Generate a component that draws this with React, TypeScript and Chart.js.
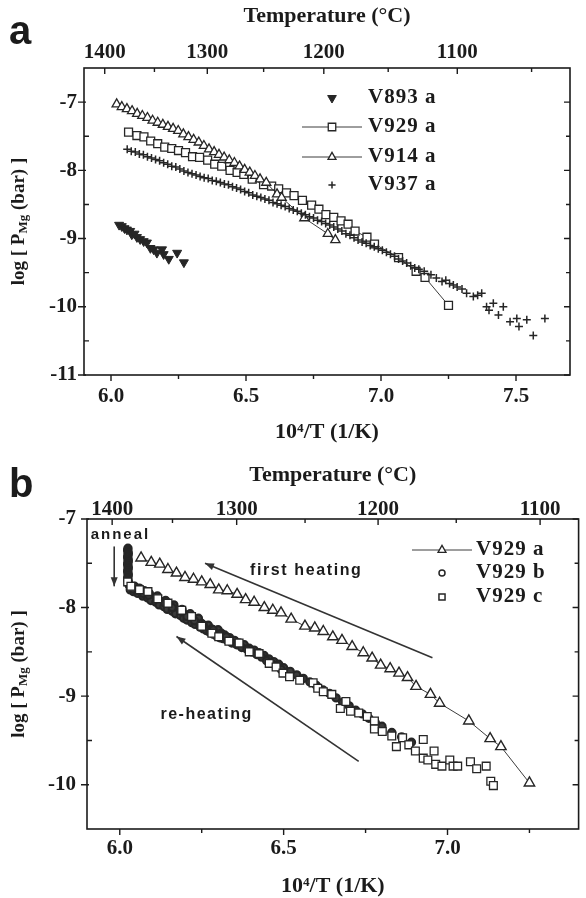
import React, { useEffect, useRef } from 'react';
import { Chart, registerables } from 'chart.js';
import { drawPoint } from 'chart.js/helpers';

Chart.register(...registerables);

// ---------------- Panel a data: [10^4/T, log P_Mg] ----------------
const V893A: [number, number][] = [
  [6.030, -8.80], [6.040, -8.82], [6.050, -8.85], [6.059, -8.87], [6.071, -8.89], [6.077, -8.94],
  [6.087, -8.93], [6.096, -8.98], [6.108, -9.01], [6.121, -9.04], [6.133, -9.06], [6.146, -9.14],
  [6.158, -9.16], [6.170, -9.21], [6.189, -9.16], [6.195, -9.23], [6.214, -9.30], [6.245, -9.21],
  [6.270, -9.35],
];

const V929A: [number, number][] = [
  [6.065, -7.44], [6.096, -7.49], [6.122, -7.51], [6.147, -7.57], [6.173, -7.61], [6.199, -7.66],
  [6.225, -7.68], [6.250, -7.71], [6.276, -7.74], [6.302, -7.80], [6.328, -7.81], [6.358, -7.85],
  [6.384, -7.91], [6.410, -7.94], [6.441, -8.00], [6.467, -8.03], [6.492, -8.06], [6.523, -8.13],
  [6.565, -8.21], [6.595, -8.23], [6.621, -8.27], [6.650, -8.33], [6.678, -8.37], [6.709, -8.44],
  [6.743, -8.51], [6.770, -8.57], [6.796, -8.65], [6.825, -8.69], [6.852, -8.74], [6.878, -8.79],
  [6.904, -8.89], [6.948, -8.98], [6.976, -9.08], [7.065, -9.28], [7.130, -9.48], [7.163, -9.57],
  [7.250, -9.98],
];

const V914A: [number, number][] = [
  [6.021, -7.03], [6.040, -7.07], [6.059, -7.10], [6.078, -7.13], [6.097, -7.17], [6.116, -7.20],
  [6.135, -7.23], [6.154, -7.27], [6.173, -7.30], [6.192, -7.33], [6.211, -7.36], [6.230, -7.39],
  [6.249, -7.42], [6.268, -7.47], [6.287, -7.51], [6.306, -7.55], [6.325, -7.59], [6.344, -7.64],
  [6.363, -7.69], [6.382, -7.73], [6.400, -7.77], [6.419, -7.81], [6.438, -7.85], [6.457, -7.89],
  [6.476, -7.94], [6.495, -7.99], [6.514, -8.03], [6.533, -8.08], [6.552, -8.13], [6.575, -8.18],
  [6.615, -8.35], [6.632, -8.40], [6.716, -8.70], [6.803, -8.93], [6.831, -9.02],
];

const V937A: [number, number][] = [
  [6.060, -7.69], [6.075, -7.72], [6.090, -7.73], [6.105, -7.76], [6.120, -7.77], [6.135, -7.80],
  [6.150, -7.82], [6.165, -7.84], [6.180, -7.86], [6.195, -7.89], [6.210, -7.91], [6.225, -7.94],
  [6.240, -7.95], [6.255, -7.98], [6.270, -8.01], [6.285, -8.03], [6.300, -8.05], [6.315, -8.07],
  [6.330, -8.09], [6.345, -8.11], [6.360, -8.12], [6.375, -8.15], [6.390, -8.16], [6.405, -8.18],
  [6.420, -8.20], [6.435, -8.21], [6.450, -8.24], [6.465, -8.26], [6.480, -8.28], [6.495, -8.31],
  [6.510, -8.33], [6.525, -8.36], [6.540, -8.38], [6.555, -8.40], [6.570, -8.42], [6.585, -8.44],
  [6.600, -8.47], [6.615, -8.49], [6.630, -8.51], [6.645, -8.53], [6.660, -8.56], [6.675, -8.58],
  [6.690, -8.60], [6.705, -8.63], [6.720, -8.65], [6.735, -8.68], [6.750, -8.70], [6.765, -8.73],
  [6.780, -8.75], [6.795, -8.78], [6.810, -8.80], [6.825, -8.83], [6.840, -8.86], [6.855, -8.89],
  [6.870, -8.93], [6.885, -8.95], [6.900, -8.99], [6.915, -9.02], [6.930, -9.05], [6.945, -9.07],
  [6.960, -9.10], [6.975, -9.12], [6.990, -9.15], [7.005, -9.17], [7.020, -9.20], [7.035, -9.23],
  [7.050, -9.26], [7.065, -9.30], [7.080, -9.33], [7.095, -9.36], [7.110, -9.40], [7.125, -9.43],
  [7.140, -9.45], [7.160, -9.48], [7.185, -9.53], [7.205, -9.58], [7.226, -9.63], [7.240, -9.61],
  [7.254, -9.66], [7.268, -9.68], [7.282, -9.71], [7.300, -9.74], [7.317, -9.80], [7.342, -9.85],
  [7.358, -9.83], [7.373, -9.80], [7.391, -10.00], [7.400, -10.05], [7.416, -9.95], [7.435, -10.12],
  [7.453, -10.00], [7.478, -10.22], [7.503, -10.17], [7.511, -10.29], [7.540, -10.19], [7.564, -10.42],
  [7.607, -10.17],
];

// ---------------- Panel b data ----------------
const V929B: [number, number][] = [
  // anneal column
  [6.025, -7.33], [6.024, -7.35], [6.025, -7.37], [6.026, -7.39], [6.025, -7.41], [6.024, -7.43],
  [6.025, -7.45], [6.026, -7.47], [6.025, -7.49], [6.024, -7.51], [6.025, -7.53], [6.026, -7.55],
  [6.025, -7.57], [6.024, -7.59], [6.025, -7.61], [6.026, -7.63], [6.025, -7.65], [6.024, -7.67],
  [6.025, -7.69], [6.026, -7.71], [6.027, -7.73], [6.029, -7.75],
  // re-heating
  [6.035, -7.77], [6.045, -7.76], [6.050, -7.80], [6.060, -7.78], [6.065, -7.83], [6.075, -7.81],
  [6.080, -7.86], [6.090, -7.84], [6.100, -7.88], [6.105, -7.91], [6.115, -7.87], [6.125, -7.93],
  [6.130, -7.96], [6.140, -7.92], [6.150, -7.98], [6.155, -8.01], [6.165, -7.97], [6.175, -8.03],
  [6.180, -8.06], [6.190, -8.02], [6.200, -8.08], [6.210, -8.11], [6.215, -8.07], [6.225, -8.13],
  [6.235, -8.16], [6.240, -8.12], [6.250, -8.18], [6.260, -8.21], [6.270, -8.20], [6.280, -8.24],
  [6.290, -8.26], [6.300, -8.25], [6.310, -8.29], [6.320, -8.31], [6.335, -8.34], [6.350, -8.37],
  [6.365, -8.40], [6.380, -8.42], [6.395, -8.46], [6.410, -8.48], [6.425, -8.51], [6.440, -8.54],
  [6.455, -8.58], [6.470, -8.61], [6.485, -8.64], [6.500, -8.68], [6.520, -8.72], [6.540, -8.76],
  [6.560, -8.80], [6.580, -8.84], [6.600, -8.88], [6.620, -8.93], [6.640, -8.97], [6.660, -9.02],
  [6.680, -9.07], [6.700, -9.11], [6.720, -9.16], [6.740, -9.20], [6.760, -9.25], [6.780, -9.30],
  [6.800, -9.34], [6.830, -9.41], [6.860, -9.46], [6.890, -9.52],
  [6.032, -7.80], [6.042, -7.82], [6.055, -7.84], [6.070, -7.87], [6.085, -7.89], [6.095, -7.92],
  [6.110, -7.94], [6.120, -7.97], [6.135, -7.99], [6.145, -8.02], [6.160, -8.04], [6.170, -8.07],
  [6.185, -8.09], [6.195, -8.12], [6.205, -8.14], [6.220, -8.17], [6.230, -8.19], [6.245, -8.22],
  [6.255, -8.24], [6.265, -8.26], [6.275, -8.28], [6.285, -8.30], [6.295, -8.32], [6.305, -8.34],
  [6.315, -8.35], [6.328, -8.37], [6.342, -8.40], [6.357, -8.42], [6.372, -8.45], [6.388, -8.47],
  [6.403, -8.50], [6.418, -8.53], [6.433, -8.56], [6.448, -8.60], [6.463, -8.63], [6.478, -8.66],
  [6.493, -8.70],
  [6.040, -7.79], [6.058, -7.81], [6.072, -7.84], [6.088, -7.86], [6.112, -7.90], [6.138, -7.95],
  [6.160, -8.00], [6.185, -8.04], [6.205, -8.10], [6.228, -8.15], [6.255, -8.20], [6.285, -8.25],
  [6.305, -8.30], [6.325, -8.33],
];

const V929C: [number, number][] = [
  [6.024, -7.71], [6.034, -7.76], [6.060, -7.80], [6.086, -7.82], [6.116, -7.90], [6.147, -7.95],
  [6.189, -8.03], [6.219, -8.10], [6.250, -8.21], [6.281, -8.29], [6.302, -8.33], [6.333, -8.38],
  [6.364, -8.40], [6.395, -8.50], [6.425, -8.52], [6.456, -8.63], [6.477, -8.67], [6.498, -8.74],
  [6.518, -8.78], [6.549, -8.82], [6.590, -8.85], [6.604, -8.91], [6.621, -8.95], [6.647, -8.98],
  [6.673, -9.14], [6.690, -9.06], [6.704, -9.17], [6.729, -9.19], [6.755, -9.23], [6.777, -9.28],
  [6.777, -9.37], [6.801, -9.40], [6.830, -9.45], [6.844, -9.57], [6.863, -9.47], [6.882, -9.55],
  [6.902, -9.62], [6.926, -9.49], [6.926, -9.70], [6.940, -9.72], [6.959, -9.62], [6.964, -9.77],
  [6.983, -9.79], [7.007, -9.72], [7.017, -9.79], [7.031, -9.79], [7.070, -9.74], [7.089, -9.82],
  [7.118, -9.79], [7.132, -9.96], [7.140, -10.01],
];

// ---------------- Axis ticks ----------------
const A_X_LABELS = [6.0, 6.5, 7.0, 7.5];
const A_X_MINOR = [6.25, 6.75, 7.25];
const A_Y_LABELS = [-11, -10, -9, -8, -7];
const A_Y_MINOR = [-10.5, -9.5, -8.5, -7.5];
const A_TEMP_LABELS = [1400, 1300, 1200, 1100];
const A_TEMP_MINOR = [1350, 1250, 1150, 1050];

const B_X_LABELS = [6.0, 6.5, 7.0];
const B_X_MINOR = [6.25, 6.75, 7.25];
const B_Y_LABELS = [-10, -9, -8, -7];
const B_Y_MINOR = [-9.5, -8.5, -7.5];
const B_TEMP_LABELS = [1400, 1300, 1200, 1100];
const B_TEMP_MINOR = [1350, 1250, 1150];

// ---------------- styling ----------------
const INK = '#1b1b1b';
const MARK = '#262626';
const LINE = '#3c3c3c';
const SERIF = '"Liberation Serif", "Times New Roman", serif';
const SANS = '"Liberation Sans", Arial, sans-serif';

const invT = (tC: number) => 1e4 / (tC + 273.15);
const pts = (arr: [number, number][]) => arr.map(([x, y]) => ({ x, y }));

const ST = {
  downTri: { pointStyle: 'triangle', rotation: 180, radius: 5.2, fill: MARK, bw: 1 },
  square: { pointStyle: 'rect', rotation: 0, radius: 5.6, fill: '#ffffff', bw: 1.3 },
  tri: { pointStyle: 'triangle', rotation: 0, radius: 5.3, fill: '#ffffff', bw: 1.3 },
  triB: { pointStyle: 'triangle', rotation: 0, radius: 6, fill: '#ffffff', bw: 1.4 },
  cross: { pointStyle: 'cross', rotation: 0, radius: 4, fill: MARK, bw: 1.5 },
  circle: { pointStyle: 'circle', rotation: 0, radius: 3.6, fill: '#3a3a3a', bw: 2.2 },
  squareB: { pointStyle: 'rect', rotation: 0, radius: 5.5, fill: '#ffffff', bw: 1.3 },
};

function ds(label: string, data: [number, number][], st: any, line: boolean, order: number) {
  return {
    label,
    data: pts(data),
    order,
    showLine: line,
    borderColor: LINE,
    borderWidth: 1,
    pointStyle: st.pointStyle,
    rotation: st.rotation,
    pointRadius: st.radius,
    pointBackgroundColor: st.fill,
    pointBorderColor: MARK,
    pointBorderWidth: st.bw,
  };
}

const SPEC_A = {
  letter: 'a', width: 586, height: 452,
  xMin: 5.9, xMax: 7.7, yMin: -11, yMax: -6.5,
  xLabels: A_X_LABELS, xMinor: A_X_MINOR, yLabels: A_Y_LABELS, yMinor: A_Y_MINOR,
  tempLabels: A_TEMP_LABELS, tempMinor: A_TEMP_MINOR,
  leftW: 84, rightPad: 16, topH: 68, bottomH: 77,
  xTickPad: 9, x2TickPad: 3, yTickPad: 7, topTitlePad: 3, bottomTitlePad: 6,
  yTitleX: 19, letterBase: 44,
  datasets: [
    ds('V893 a', V893A, ST.downTri, false, 0),
    ds('V937 a', V937A, ST.cross, false, 1),
    ds('V914 a', V914A, ST.tri, true, 2),
    ds('V929 a', V929A, ST.square, true, 3),
  ],
  legend: [
    { label: 'V893 a', st: { ...ST.downTri, radius: 5 }, line: false },
    { label: 'V929 a', st: { ...ST.square, radius: 5.3 }, line: true },
    { label: 'V914 a', st: { ...ST.tri, radius: 4.6 }, line: true },
    { label: 'V937 a', st: { ...ST.cross, radius: 3.6 }, line: false },
  ],
  legendMarkerX: 248, legendTextX: 284, legendRows: [30, 59, 89, 117],
  notes: [] as any[], arrows: [] as any[],
};

const SPEC_B = {
  letter: 'b', width: 586, height: 446,
  xMin: 5.9, xMax: 7.4, yMin: -10.5, yMax: -7,
  xLabels: B_X_LABELS, xMinor: B_X_MINOR, yLabels: B_Y_LABELS, yMinor: B_Y_MINOR,
  tempLabels: B_TEMP_LABELS, tempMinor: B_TEMP_MINOR,
  leftW: 87, rightPad: 6, topH: 67, bottomH: 69,
  xTickPad: 7, x2TickPad: -3, yTickPad: 11, topTitlePad: 10, bottomTitlePad: -2,
  yTitleX: 19, letterBase: 45,
  datasets: [
    ds('V929 c', V929C, ST.squareB, false, 0),
    ds('V929 b', V929B, ST.circle, false, 1),
    ds('V929 a', V929A, ST.triB, true, 2),
  ],
  legend: [
    { label: 'V929 a', st: { ...ST.tri, radius: 4.6 }, line: true },
    { label: 'V929 b', st: { ...ST.circle, radius: 3, bw: 1.5, fill: 'rgba(0,0,0,0)' }, line: false },
    { label: 'V929 c', st: { ...ST.square, radius: 4.3, bw: 1.5 }, line: false },
  ],
  legendMarkerX: 355, legendTextX: 389, legendRows: [31, 54, 78],
  notes: [
    { text: 'anneal', x: 6.002, y: -7.18, size: 15, spacing: 2 },
    { text: 'first heating', x: 6.569, y: -7.58, size: 16, spacing: 1.6 },
    { text: 're-heating', x: 6.265, y: -9.21, size: 16, spacing: 1.5 },
  ],
  arrows: [
    { from: [6.954, -8.566], to: [6.26, -7.50] },
    { from: [6.729, -9.736], to: [6.173, -8.327] },
    { from: [5.983, -7.31], to: [5.983, -7.76] },
  ],
};

function makeDeco(spec: any) {
  return {
    id: 'deco_' + spec.letter,
    afterDraw(chart: any) {
      const { ctx, chartArea: ca, scales } = chart;
      const xs = scales.x;
      const ys = scales.y;
      const X = (v: number) => xs.getPixelForValue(v);
      const Y = (v: number) => ys.getPixelForValue(v);
      ctx.save();
      // frame
      ctx.strokeStyle = INK;
      ctx.lineWidth = 1.6;
      ctx.strokeRect(ca.left, ca.top, ca.right - ca.left, ca.bottom - ca.top);
      // tick marks
      ctx.lineWidth = 1.4;
      ctx.beginPath();
      const seg = (x1: number, y1: number, x2: number, y2: number) => { ctx.moveTo(x1, y1); ctx.lineTo(x2, y2); };
      spec.xLabels.forEach((v: number) => seg(X(v), ca.bottom, X(v), ca.bottom + 6));
      spec.xMinor.forEach((v: number) => seg(X(v), ca.bottom, X(v), ca.bottom + 4));
      spec.tempLabels.forEach((t: number) => seg(X(invT(t)), ca.top, X(invT(t)), ca.top + 6));
      spec.tempMinor.forEach((t: number) => seg(X(invT(t)), ca.top, X(invT(t)), ca.top + 4));
      spec.yLabels.forEach((v: number) => { seg(ca.left - 6, Y(v), ca.left + 2, Y(v)); seg(ca.right, Y(v), ca.right - 6, Y(v)); });
      spec.yMinor.forEach((v: number) => { seg(ca.left, Y(v), ca.left + 5, Y(v)); seg(ca.right, Y(v), ca.right - 4, Y(v)); });
      ctx.stroke();

      // y title with subscript
      ctx.save();
      ctx.translate(spec.yTitleX, (ca.top + ca.bottom) / 2);
      ctx.rotate(-Math.PI / 2);
      ctx.fillStyle = INK;
      ctx.textBaseline = 'middle';
      ctx.textAlign = 'left';
      const big = 'bold 19px ' + SERIF;
      const small = 'bold 13px ' + SERIF;
      const parts: [string, string, number][] = [['log [ P', big, 0], ['Mg', small, 5], [' (bar) ]', big, 0]];
      let total = 0;
      parts.forEach((p) => { ctx.font = p[1]; total += ctx.measureText(p[0]).width; });
      let cx = -total / 2;
      parts.forEach((p) => { ctx.font = p[1]; ctx.fillText(p[0], cx, p[2]); cx += ctx.measureText(p[0]).width; });
      ctx.restore();

      // legend
      spec.legend.forEach((item: any, i: number) => {
        const y = ca.top + spec.legendRows[i];
        const mx = ca.left + spec.legendMarkerX;
        if (item.line) {
          ctx.strokeStyle = LINE;
          ctx.lineWidth = 1;
          ctx.beginPath();
          ctx.moveTo(mx - 30, y);
          ctx.lineTo(mx + 30, y);
          ctx.stroke();
        }
        ctx.fillStyle = item.st.fill;
        ctx.strokeStyle = MARK;
        ctx.lineWidth = item.st.bw;
        drawPoint(ctx, { pointStyle: item.st.pointStyle, rotation: item.st.rotation, radius: item.st.radius, borderWidth: item.st.bw } as any, mx, y);
        ctx.fillStyle = INK;
        ctx.font = 'bold 21px ' + SERIF;
        ctx.textBaseline = 'middle';
        ctx.textAlign = 'left';
        (ctx as any).letterSpacing = '1px';
        ctx.fillText(item.label, ca.left + spec.legendTextX, y);
        (ctx as any).letterSpacing = '0px';
      });

      // arrows
      spec.arrows.forEach((a: any) => {
        const x1 = X(a.from[0]), y1 = Y(a.from[1]), x2 = X(a.to[0]), y2 = Y(a.to[1]);
        ctx.strokeStyle = '#333';
        ctx.fillStyle = '#333';
        ctx.lineWidth = 1.6;
        ctx.beginPath();
        ctx.moveTo(x1, y1);
        ctx.lineTo(x2, y2);
        ctx.stroke();
        const ang = Math.atan2(y2 - y1, x2 - x1);
        const L = 9, W = 3.5;
        ctx.beginPath();
        ctx.moveTo(x2, y2);
        ctx.lineTo(x2 - L * Math.cos(ang) + W * Math.sin(ang), y2 - L * Math.sin(ang) - W * Math.cos(ang));
        ctx.lineTo(x2 - L * Math.cos(ang) - W * Math.sin(ang), y2 - L * Math.sin(ang) + W * Math.cos(ang));
        ctx.closePath();
        ctx.fill();
      });

      // annotation notes
      spec.notes.forEach((n: any) => {
        ctx.fillStyle = INK;
        ctx.font = 'bold ' + n.size + 'px ' + SANS;
        ctx.textAlign = 'center';
        ctx.textBaseline = 'middle';
        (ctx as any).letterSpacing = n.spacing + 'px';
        ctx.fillText(n.text, X(n.x), Y(n.y));
        (ctx as any).letterSpacing = '0px';
      });

      // panel letter
      ctx.fillStyle = INK;
      ctx.font = 'bold 40px ' + SANS;
      ctx.textAlign = 'left';
      ctx.textBaseline = 'alphabetic';
      ctx.fillText(spec.letter, 9, spec.letterBase);
      ctx.restore();
    },
  };
}

function makeConfig(spec: any): any {
  const tickFont = { family: SERIF, size: 21, weight: 'bold' };
  const titleFont = { family: SERIF, size: 22, weight: 'bold' };
  return {
    type: 'scatter',
    data: { datasets: spec.datasets },
    options: {
      animation: false,
      responsive: false,
      events: [],
      layout: { padding: { left: 0, right: spec.rightPad, top: 0, bottom: 0 } },
      elements: { line: { tension: 0 } },
      plugins: { legend: { display: false }, tooltip: { enabled: false }, title: { display: false } },
      scales: {
        x: {
          type: 'linear', position: 'bottom', min: spec.xMin, max: spec.xMax,
          afterBuildTicks: (s: any) => { s.ticks = spec.xLabels.map((v: number) => ({ value: v })); },
          afterFit: (s: any) => { s.height = spec.bottomH; },
          grid: { display: false, drawTicks: false },
          border: { display: false },
          ticks: { font: tickFont, color: INK, padding: spec.xTickPad, autoSkip: false, maxRotation: 0, minRotation: 0,
            callback: (v: any) => Number(v).toFixed(1) },
          title: { display: true, text: '10⁴/T (1/K)', font: titleFont, color: INK, padding: { top: 0, bottom: spec.bottomTitlePad } },
        },
        x2: {
          type: 'linear', position: 'top', min: spec.xMin, max: spec.xMax,
          afterBuildTicks: (s: any) => { s.ticks = spec.tempLabels.map((t: number) => ({ value: invT(t) })); },
          afterFit: (s: any) => { s.height = spec.topH; },
          grid: { display: false, drawTicks: false },
          border: { display: false },
          ticks: { font: tickFont, color: INK, padding: spec.x2TickPad, autoSkip: false, maxRotation: 0, minRotation: 0,
            callback: (_v: any, i: number) => String(spec.tempLabels[i]) },
          title: { display: true, text: 'Temperature (°C)', font: titleFont, color: INK, padding: { top: spec.topTitlePad, bottom: 0 } },
        },
        y: {
          type: 'linear', position: 'left', min: spec.yMin, max: spec.yMax,
          afterBuildTicks: (s: any) => { s.ticks = spec.yLabels.map((v: number) => ({ value: v })); },
          afterFit: (s: any) => { s.width = spec.leftW; },
          grid: { display: false, drawTicks: false },
          border: { display: false },
          ticks: { font: tickFont, color: INK, padding: spec.yTickPad, autoSkip: false, callback: (v: any) => String(v) },
        },
      },
    },
    plugins: [makeDeco(spec)],
  };
}

function Panel({ spec, top }: { spec: any; top: number }) {
  const ref = useRef<HTMLCanvasElement | null>(null);
  useEffect(() => {
    if (!ref.current) return;
    const chart = new Chart(ref.current, makeConfig(spec));
    return () => chart.destroy();
  }, [spec]);
  return (
    <canvas
      ref={ref}
      width={spec.width}
      height={spec.height}
      style={{ position: 'absolute', left: 0, top, width: spec.width, height: spec.height }}
    />
  );
}

export default function App() {
  return (
    <div style={{ position: 'absolute', left: 0, top: 0, width: 586, height: 898, background: '#ffffff', overflow: 'hidden' }}>
      <Panel spec={SPEC_A} top={0} />
      <Panel spec={SPEC_B} top={452} />
    </div>
  );
}
